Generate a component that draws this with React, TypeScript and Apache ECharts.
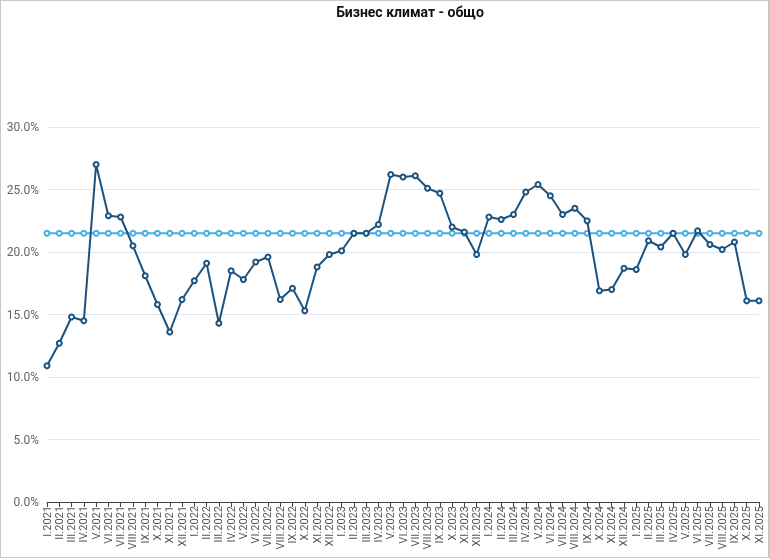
import React, { useEffect, useRef } from "react";
import * as echarts from "echarts";

const roman = ["I", "II", "III", "IV", "V", "VI", "VII", "VIII", "IX", "X", "XI", "XII"];
const years = [2021, 2022, 2023, 2024, 2025];
const categories: string[] = [];
years.forEach((y) => {
  const n = y === 2025 ? 11 : 12;
  for (let m = 0; m < n; m++) categories.push(`${roman[m]}.${y}`);
});

const values2021 = [10.9, 12.7, 14.8, 14.5, 27.0, 22.9, 22.8, 20.5, 18.1, 15.8, 13.6, 16.2];
const values2022 = [17.7, 19.1, 14.3, 18.5, 17.8, 19.2, 19.6, 16.2, 17.1, 15.3, 18.8, 19.8];
const values2023 = [20.1, 21.5, 21.5, 22.2, 26.2, 26.0, 26.1, 25.1, 24.7, 22.0, 21.6, 19.8];
const values2024 = [22.8, 22.6, 23.0, 24.8, 25.4, 24.5, 23.0, 23.5, 22.5, 16.9, 17.0, 18.7];
const values2025 = [18.6, 20.9, 20.4, 21.5, 19.8, 21.7, 20.6, 20.2, 20.8, 16.1, 16.1];
const businessClimate = [...values2021, ...values2022, ...values2023, ...values2024, ...values2025];

const averageLevel = [
  21.5, 21.5, 21.5, 21.5, 21.5, 21.5, 21.5, 21.5, 21.5, 21.5, 21.5, 21.5,
  21.5, 21.5, 21.5, 21.5, 21.5, 21.5, 21.5, 21.5, 21.5, 21.5, 21.5, 21.5,
  21.5, 21.5, 21.5, 21.5, 21.5, 21.5, 21.5, 21.5, 21.5, 21.5, 21.5, 21.5,
  21.5, 21.5, 21.5, 21.5, 21.5, 21.5, 21.5, 21.5, 21.5, 21.5, 21.5, 21.5,
  21.5, 21.5, 21.5, 21.5, 21.5, 21.5, 21.5, 21.5, 21.5, 21.5, 21.5,
];

const yTicks = { min: 0, max: 30, interval: 5 };
const title = "Бизнес климат - общо";

export default function App() {
  const ref = useRef<HTMLDivElement>(null);
  useEffect(() => {
    document.body.style.margin = "0";
    if (!ref.current) return;
    const chart = echarts.init(ref.current, undefined, { renderer: "svg" });
    chart.setOption({
      animation: false,
      backgroundColor: "transparent",
      title: {
        text: title,
        left: 405,
        textAlign: "center",
        top: 0,
        textStyle: { fontFamily: "Roboto, sans-serif", fontSize: 14, fontWeight: "bold", color: "#111" },
      },
      grid: { left: 47, right: 11, top: 127, bottom: 58, containLabel: false },
      xAxis: {
        type: "category",
        data: categories,
        boundaryGap: false,
        axisLine: { lineStyle: { color: "#444", width: 1 } },
        axisTick: { show: true, length: 5, lineStyle: { color: "#444" } },
        axisLabel: {
          interval: 0,
          rotate: 90,
          fontSize: 11,
          color: "#555",
          margin: 4,
          fontFamily: "Roboto, sans-serif",
        },
      },
      yAxis: {
        type: "value",
        min: yTicks.min,
        max: yTicks.max,
        interval: yTicks.interval,
        axisLine: { show: false },
        axisTick: { show: false },
        axisLabel: {
          fontSize: 12,
          color: "#666",
          margin: 8,
          fontFamily: "Roboto, sans-serif",
          formatter: (v: number) => `${v.toFixed(1)}%`,
        },
        splitLine: { lineStyle: { color: "#e0e6f1" } },
      },
      series: [
        {
          type: "line",
          data: averageLevel,
          symbol: "emptyCircle",
          symbolSize: 5,
          lineStyle: { color: "#4aaee0", width: 2 },
          itemStyle: { color: "#4aaee0", borderWidth: 1.5 },
          z: 2,
        },
        {
          type: "line",
          data: businessClimate,
          symbol: "emptyCircle",
          symbolSize: 5,
          lineStyle: { color: "#1b527e", width: 2 },
          itemStyle: { color: "#1b527e", borderWidth: 1.5 },
          z: 3,
        },
      ],
    });
    return () => chart.dispose();
  }, []);
  return (
    <div style={{ position: "fixed", left: 0, top: 0, width: 770, height: 560 }}>
      <div
        style={{
          position: "absolute",
          left: 0,
          top: 0,
          width: 770,
          height: 558,
          boxSizing: "border-box",
          border: "1px solid #c8c8c8",
          borderRightWidth: 2,
        }}
      />
      <div ref={ref} style={{ position: "absolute", left: 0, top: 0, width: 770, height: 560 }} />
    </div>
  );
}
